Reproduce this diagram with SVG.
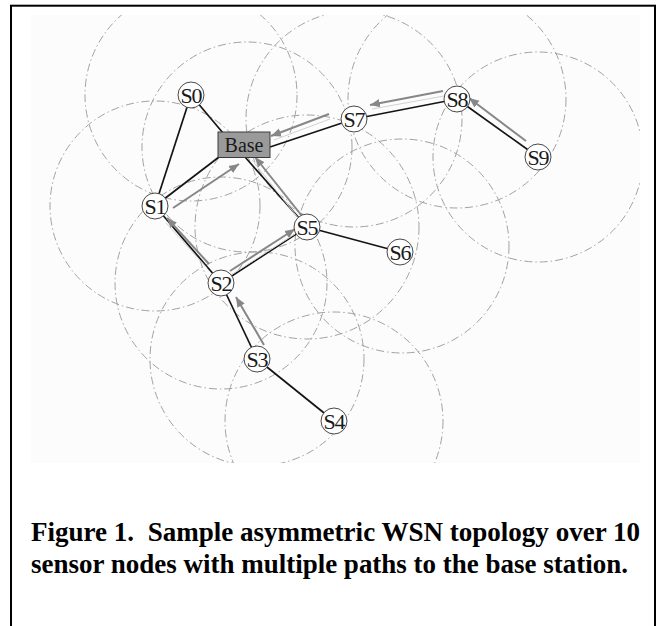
<svg xmlns="http://www.w3.org/2000/svg" width="662" height="626" viewBox="0 0 662 626">
  <style>
    .range { fill: none; stroke: #a2a2a2; stroke-width: 1; stroke-dasharray: 8 3 1.5 3; }
    .edge { stroke: #141414; stroke-width: 1.7; fill: none; }
    .flow { stroke: #878787; stroke-width: 2; fill: none; marker-end: url(#head); }
    .flowband { stroke: #d2d2d2; stroke-width: 1; fill: none; }
    .node circle { fill: #ffffff; stroke: #4a4a4a; stroke-width: 1; }
    .label { font-family: "Liberation Serif", "Times New Roman", serif; font-size: 22px; letter-spacing: -1px; fill: #1a1a1a; text-anchor: middle; }
    .base-label { font-family: "Liberation Serif", "Times New Roman", serif; font-size: 20px; fill: #1a1a1a; text-anchor: middle; }
    .caption { font-family: "Liberation Serif", "Times New Roman", serif; font-weight: bold; font-size: 28px; fill: #000; }
  </style>
  <defs>
    <clipPath id="plot">
      <rect x="31" y="15" width="609" height="448"/>
    </clipPath>
    <marker id="head" markerUnits="userSpaceOnUse" markerWidth="12" markerHeight="10" refX="10" refY="5" orient="auto">
      <path d="M0,0.8 L10,5 L0,9.2 Z" fill="#878787"/>
    </marker>
  </defs>

  <!-- page frame -->
  <rect x="11" y="5.7" width="644" height="640" fill="#ffffff" stroke="#000" stroke-width="2"/>

  <!-- plot area -->
  <rect x="31" y="15" width="609" height="448" fill="#fcfcfc"/>

  <!-- radio ranges -->
  <g id="ranges" clip-path="url(#plot)">
    <circle class="range" cx="191" cy="95" r="106"/>
    <circle class="range" cx="247" cy="147" r="105"/>
    <circle class="range" cx="155" cy="206" r="105"/>
    <circle class="range" cx="221" cy="283" r="106"/>
    <circle class="range" cx="257" cy="359" r="107"/>
    <circle class="range" cx="334" cy="421" r="109"/>
    <circle class="range" cx="307" cy="227" r="112"/>
    <circle class="range" cx="402" cy="246" r="107"/>
    <circle class="range" cx="354" cy="119" r="108"/>
    <circle class="range" cx="457" cy="99" r="109"/>
    <circle class="range" cx="538" cy="157" r="105"/>
  </g>

  <!-- links and forwarding paths -->
  <g id="connectors">
    <line class="edge" x1="191" y1="95" x2="155" y2="206"/>
    <line class="edge" x1="191" y1="95" x2="223" y2="133"/>
    <line class="edge" x1="155" y1="206" x2="219" y2="157"/>
    <line class="edge" x1="270" y1="147" x2="354" y2="119"/>
    <line class="edge" x1="354" y1="119" x2="457" y2="99"/>
    <line class="edge" x1="457" y1="99" x2="538" y2="157"/>
    <line class="edge" x1="245" y1="157" x2="307" y2="227"/>
    <line class="edge" x1="307" y1="227" x2="400" y2="252"/>
    <line class="edge" x1="155" y1="206" x2="221" y2="283"/>
    <line class="edge" x1="221" y1="283" x2="307" y2="227"/>
    <line class="edge" x1="221" y1="283" x2="257" y2="359"/>
    <line class="edge" x1="257" y1="359" x2="334" y2="421"/>

    <line class="flowband" x1="444" y1="96" x2="372" y2="109"/>
    <line class="flow" x1="443" y1="91" x2="370" y2="105"/>
    <line class="flowband" x1="330" y1="119" x2="274" y2="140"/>
    <line class="flow" x1="329" y1="114" x2="271" y2="136"/>
    <line class="flow" x1="526" y1="141" x2="469" y2="98"/>
    <line class="flow" x1="173" y1="208" x2="239" y2="164"/>
    <line class="flowband" x1="299" y1="219" x2="252" y2="160"/>
    <line class="flow" x1="302" y1="216" x2="255" y2="157"/>
    <line class="flowband" x1="207" y1="268" x2="166" y2="223"/>
    <line class="flow" x1="209" y1="264" x2="167" y2="218"/>
    <line class="flowband" x1="231" y1="275" x2="295" y2="234"/>
    <line class="flow" x1="230" y1="271" x2="295" y2="229"/>
    <line class="flow" x1="264" y1="345" x2="236" y2="297"/>
  </g>

  <!-- sensor nodes -->
  <g id="base">
    <rect x="218" y="132" width="52" height="25.5" fill="#9a9a9a" stroke="#3a3a3a" stroke-width="1"/>
    <text class="base-label" x="244" y="152">Base</text>
  </g>
  <g id="s0" class="node"><circle cx="191" cy="95" r="13"/><text class="label" x="191" y="102.5">S0</text></g>
  <g id="s1" class="node"><circle cx="155" cy="206" r="13"/><text class="label" x="155" y="213.5">S1</text></g>
  <g id="s2" class="node"><circle cx="221" cy="283" r="13"/><text class="label" x="221" y="290.5">S2</text></g>
  <g id="s3" class="node"><circle cx="257" cy="359" r="13"/><text class="label" x="257" y="366.5">S3</text></g>
  <g id="s4" class="node"><circle cx="334" cy="421" r="13"/><text class="label" x="334" y="428.5">S4</text></g>
  <g id="s5" class="node"><circle cx="307" cy="227" r="13"/><text class="label" x="307" y="234.5">S5</text></g>
  <g id="s6" class="node"><circle cx="400" cy="252" r="13"/><text class="label" x="400" y="259.5">S6</text></g>
  <g id="s7" class="node"><circle cx="354" cy="119" r="13"/><text class="label" x="354" y="126.5">S7</text></g>
  <g id="s8" class="node"><circle cx="457" cy="99" r="13"/><text class="label" x="457" y="106.5">S8</text></g>
  <g id="s9" class="node"><circle cx="538" cy="157" r="13"/><text class="label" x="538" y="164.5">S9</text></g>

  <!-- caption -->
  <text class="caption" x="31" y="541" textLength="609" lengthAdjust="spacingAndGlyphs">Figure 1.&#160; Sample asymmetric WSN topology over 10</text>
  <text class="caption" x="31" y="573" textLength="597" lengthAdjust="spacingAndGlyphs">sensor nodes with multiple paths to the base station.</text>
</svg>
